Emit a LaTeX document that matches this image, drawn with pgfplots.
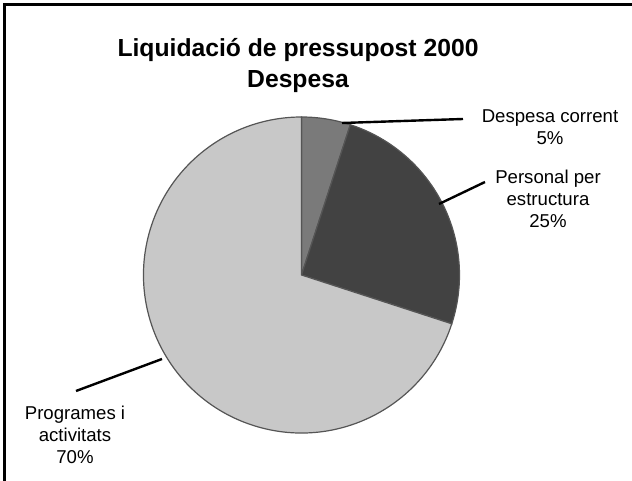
\documentclass[border=0pt]{standalone}
\usepackage{pgfplots}
\pgfplotsset{compat=1.18}
\usepackage{pgfplotstable}
\usepackage{fontspec}
\setmainfont{Liberation Sans}

\definecolor{slicea}{RGB}{122,122,122}
\definecolor{sliceb}{RGB}{66,66,66}
\definecolor{slicec}{RGB}{200,200,200}
\definecolor{edge}{RGB}{85,85,85}

% shares in percent, clockwise from 12 o'clock
\pgfplotstableread{
share
5
25
70
}\pietable

\begin{document}
\begin{tikzpicture}
\pgfplotstablegetelem{0}{share}\of\pietable \let\va\pgfplotsretval
\pgfplotstablegetelem{1}{share}\of\pietable \let\vb\pgfplotsretval
\pgfplotstablegetelem{2}{share}\of\pietable \let\vc\pgfplotsretval
\pgfmathsetmacro\angA{90-3.6*\va}
\pgfmathsetmacro\angB{\angA-3.6*\vb}
\pgfmathsetmacro\angC{\angB-3.6*\vc}
\def\R{79pt}% 158 px at 0.5pt per unit
\begin{axis}[
  width=316pt, height=240.5pt, scale only axis,
  xmin=0, xmax=632, ymin=0, ymax=481,
  hide axis, clip=false,
]
% frame (top and left edges only)
\draw[black,line width=1.5pt] (axis cs:4,0) -- (axis cs:4,476) -- (axis cs:632,476);

% slices
\filldraw[fill=slicea,draw=edge,line width=0.6pt] (axis cs:301.5,206) -- ++(90:\R)
  arc[start angle=90,end angle=\angA,radius=\R] -- cycle;
\filldraw[fill=sliceb,draw=edge,line width=0.6pt] (axis cs:301.5,206) -- ++(\angA:\R)
  arc[start angle=\angA,end angle=\angB,radius=\R] -- cycle;
\filldraw[fill=slicec,draw=edge,line width=0.6pt] (axis cs:301.5,206) -- ++(\angB:\R)
  arc[start angle=\angB,end angle=\angC,radius=\R] -- cycle;

% title
\node[align=center,font=\fontsize{12.35}{15.5}\selectfont\bfseries] at (axis cs:298,415)
  {Liquidació de pressupost 2000\\Despesa};

% leader lines
\draw[black,line width=1.2pt] (axis cs:342,358) -- (axis cs:463,362);
\draw[black,line width=1.2pt] (axis cs:439,277) -- (axis cs:485,299);
\draw[black,line width=1.2pt] (axis cs:162,122) -- (axis cs:76,90);

% labels
\node[align=center,font=\fontsize{9.3}{11}\selectfont] at (axis cs:550,354)
  {Despesa corrent\\5\%};
\node[align=center,font=\fontsize{9.3}{11}\selectfont] at (axis cs:548,282)
  {Personal per\\estructura\\25\%};
\node[align=center,font=\fontsize{9.3}{11}\selectfont] at (axis cs:75,46)
  {Programes i\\activitats\\70\%};
\end{axis}
\pgfresetboundingbox
\path (current axis.south west) rectangle (current axis.north east);
\end{tikzpicture}
\end{document}
